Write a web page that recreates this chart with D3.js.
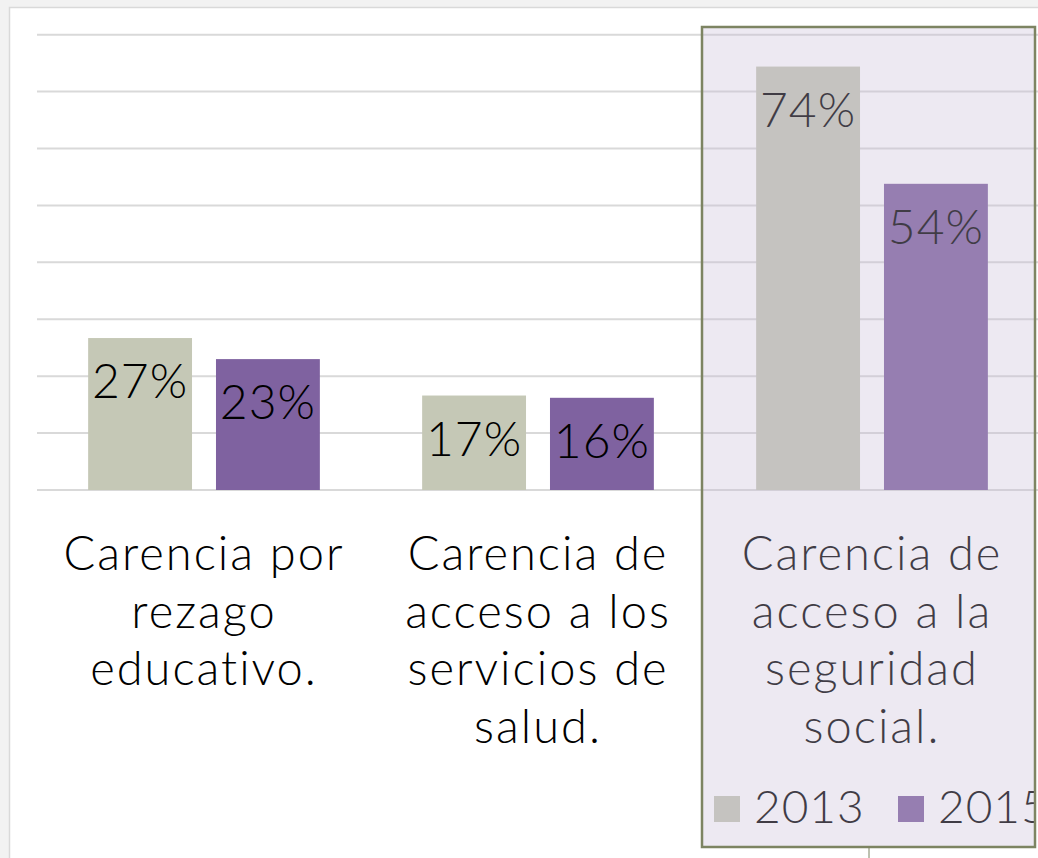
<!DOCTYPE html>
<html>
<head>
<meta charset="utf-8">
<script src="https://cdn.jsdelivr.net/npm/d3@7"></script>
<style>
  html, body { margin: 0; padding: 0; background: #f2f2f2; }
  svg { display: block; }
  text { font-family: Lato, "Open Sans", sans-serif; font-weight: 300; }
</style>
</head>
<body>
<svg id="chart"></svg>
<script>
const width = 1038;
const height = 858;

const categories = ["rezago", "salud", "seguridad"];
const categoryLines = [
  ["Carencia por", "rezago", "educativo."],
  ["Carencia de", "acceso a los", "servicios de", "salud."],
  ["Carencia de", "acceso a la", "seguridad", "social."]
];
const years = ["2013", "2015"];
const values2013 = [26.7, 16.6, 74.4];
const values2015 = [23.0, 16.2, 53.8];
const yTicks = [0, 10, 20, 30, 40, 50, 60, 70, 80];
const colors = ["#c5c8b6", "#7f62a0"];

const svg = d3.select("#chart").attr("width", width).attr("height", height);

// chart area
svg.append("rect").attr("x", 9.5).attr("y", 7.5).attr("width", width).attr("height", height)
  .attr("fill", "#fff").attr("stroke", "#d9d9d9").attr("stroke-width", 1.5);

const x = d3.scaleBand().domain(categories).range([37, 1039]);
const xs = d3.scaleBand().domain(years).range([0, x.bandwidth()]).paddingInner(0.1875).paddingOuter(0.4);
const y = d3.scaleLinear().domain([0, 80]).range([490, 34.7]);

svg.append("g").selectAll("line").data(yTicks).join("line")
  .attr("x1", 37).attr("x2", width)
  .attr("y1", (d) => y(d)).attr("y2", (d) => y(d))
  .attr("stroke", "#d9d9d9").attr("stroke-width", 2);

const rows = categories.map((c, i) => ({ cat: c, vals: [values2013[i], values2015[i]] }));

const groups = svg.append("g").selectAll("g").data(rows).join("g")
  .attr("transform", (d) => `translate(${x(d.cat)},0)`);

groups.selectAll("rect").data((d) => d.vals.map((v, j) => ({ v, year: years[j], j }))).join("rect")
  .attr("x", (d) => xs(d.year)).attr("width", xs.bandwidth())
  .attr("y", (d) => y(d.v)).attr("height", (d) => y(0) - y(d.v))
  .attr("fill", (d) => colors[d.j]);

groups.selectAll("text.val").data((d) => d.vals.map((v, j) => ({ v, year: years[j] }))).join("text")
  .attr("class", "val")
  .attr("x", (d) => xs(d.year) + xs.bandwidth() / 2)
  .attr("y", (d) => y(d.v) + 60)
  .attr("text-anchor", "middle").attr("font-size", 48).attr("letter-spacing", 1).attr("fill", "#000")
  .text((d) => Math.round(d.v) + "%");

// category labels
svg.append("g").selectAll("text").data(categories).join("text")
  .attr("text-anchor", "middle").attr("font-size", 47).attr("letter-spacing", 2).attr("fill", "#000")
  .attr("x", (d) => x(d) + x.bandwidth() / 2)
  .attr("y", 570)
  .each(function (d, i) {
    d3.select(this).selectAll("tspan").data(categoryLines[i]).join("tspan")
      .attr("x", x(d) + x.bandwidth() / 2)
      .attr("dy", (l, k) => (k === 0 ? 0 : 57.5))
      .text((l) => l);
  });

// legend
svg.append("clipPath").attr("id", "legclip").append("rect")
  .attr("x", 0).attr("y", 0).attr("width", 1034).attr("height", height);
const legend = svg.append("g").attr("clip-path", "url(#legclip)");
const legX = [714, 898];
years.forEach((yr, i) => {
  legend.append("rect").attr("x", legX[i]).attr("y", 796).attr("width", 26).attr("height", 26).attr("fill", colors[i]);
  legend.append("text").attr("x", legX[i] + 40).attr("y", 823).attr("font-size", 46).attr("letter-spacing", 1).attr("fill", "#000").text(yr);
});

// highlight box over the third category
svg.append("rect").attr("x", 702).attr("y", 27).attr("width", 333).attr("height", 820)
  .attr("fill", "rgba(199,188,216,0.32)").attr("stroke", "#7d8462").attr("stroke-width", 2.5);
svg.append("line").attr("x1", 869).attr("x2", 869).attr("y1", 848).attr("y2", height)
  .attr("stroke", "#7d8462").attr("stroke-width", 1);
</script>
</body>
</html>
